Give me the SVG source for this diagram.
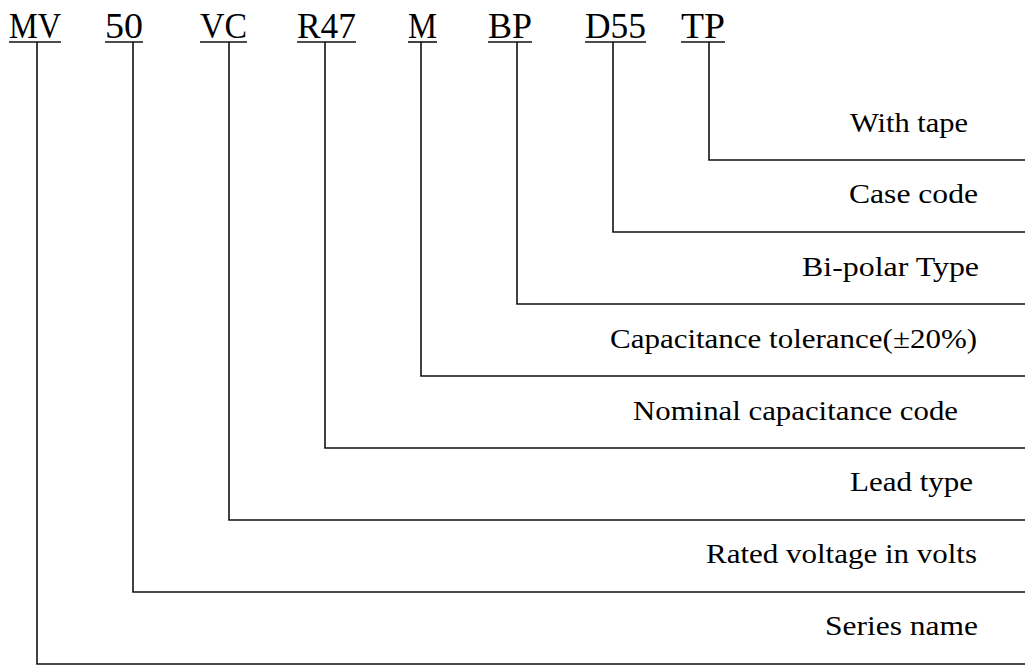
<svg xmlns="http://www.w3.org/2000/svg" width="1025" height="670" viewBox="0 0 1025 670">
<style>
.code{font-family:"Liberation Serif","DejaVu Serif",serif;font-size:35px;fill:#000}
.lbl{font-family:"Liberation Serif","DejaVu Serif",serif;font-size:27px;fill:#000}
.ln{fill:none;stroke:#111;stroke-width:1.6}
</style>
<rect width="1025" height="670" fill="#fff"/>
<g id="codes">
<g id="code-MV"><text class="code" x="9" y="38" textLength="52" lengthAdjust="spacingAndGlyphs">MV</text><line class="ln" x1="9" y1="42" x2="61" y2="42"/></g>
<g id="code-50"><text class="code" x="105" y="38" textLength="38" lengthAdjust="spacingAndGlyphs">50</text><line class="ln" x1="105" y1="42" x2="143" y2="42"/></g>
<g id="code-VC"><text class="code" x="200" y="38" textLength="47" lengthAdjust="spacingAndGlyphs">VC</text><line class="ln" x1="200" y1="42" x2="247" y2="42"/></g>
<g id="code-R47"><text class="code" x="297" y="38" textLength="59" lengthAdjust="spacingAndGlyphs">R47</text><line class="ln" x1="297" y1="42" x2="356" y2="42"/></g>
<g id="code-M"><text class="code" x="408" y="38" textLength="29" lengthAdjust="spacingAndGlyphs">M</text><line class="ln" x1="408" y1="42" x2="437" y2="42"/></g>
<g id="code-BP"><text class="code" x="488" y="38" textLength="44" lengthAdjust="spacingAndGlyphs">BP</text><line class="ln" x1="488" y1="42" x2="532" y2="42"/></g>
<g id="code-D55"><text class="code" x="585" y="38" textLength="61" lengthAdjust="spacingAndGlyphs">D55</text><line class="ln" x1="585" y1="42" x2="646" y2="42"/></g>
<g id="code-TP"><text class="code" x="681" y="38" textLength="44" lengthAdjust="spacingAndGlyphs">TP</text><line class="ln" x1="681" y1="42" x2="725" y2="42"/></g>
</g>
<g id="labels">
<g id="label-TP"><text class="lbl" x="850" y="132" textLength="118" lengthAdjust="spacingAndGlyphs">With tape</text></g>
<g id="label-D55"><text class="lbl" x="849" y="203" textLength="129" lengthAdjust="spacingAndGlyphs">Case code</text></g>
<g id="label-BP"><text class="lbl" x="802" y="276" textLength="177" lengthAdjust="spacingAndGlyphs">Bi-polar Type</text></g>
<g id="label-M"><text class="lbl" x="610" y="348" textLength="367" lengthAdjust="spacingAndGlyphs">Capacitance tolerance(±20%)</text></g>
<g id="label-R47"><text class="lbl" x="633" y="420" textLength="325" lengthAdjust="spacingAndGlyphs">Nominal capacitance code</text></g>
<g id="label-VC"><text class="lbl" x="850" y="491" textLength="123" lengthAdjust="spacingAndGlyphs">Lead type</text></g>
<g id="label-50"><text class="lbl" x="706" y="563" textLength="271" lengthAdjust="spacingAndGlyphs">Rated voltage in volts</text></g>
<g id="label-MV"><text class="lbl" x="825" y="635" textLength="153" lengthAdjust="spacingAndGlyphs">Series name</text></g>
</g>
<g id="connectors">
<polyline class="ln" points="37,42 37,664 1025,664"/>
<polyline class="ln" points="133,42 133,592 1025,592"/>
<polyline class="ln" points="229,42 229,520 1025,520"/>
<polyline class="ln" points="325,42 325,448 1025,448"/>
<polyline class="ln" points="421,42 421,376 1025,376"/>
<polyline class="ln" points="517,42 517,304 1025,304"/>
<polyline class="ln" points="613,42 613,232 1025,232"/>
<polyline class="ln" points="709,42 709,160 1025,160"/>
</g>
</svg>
